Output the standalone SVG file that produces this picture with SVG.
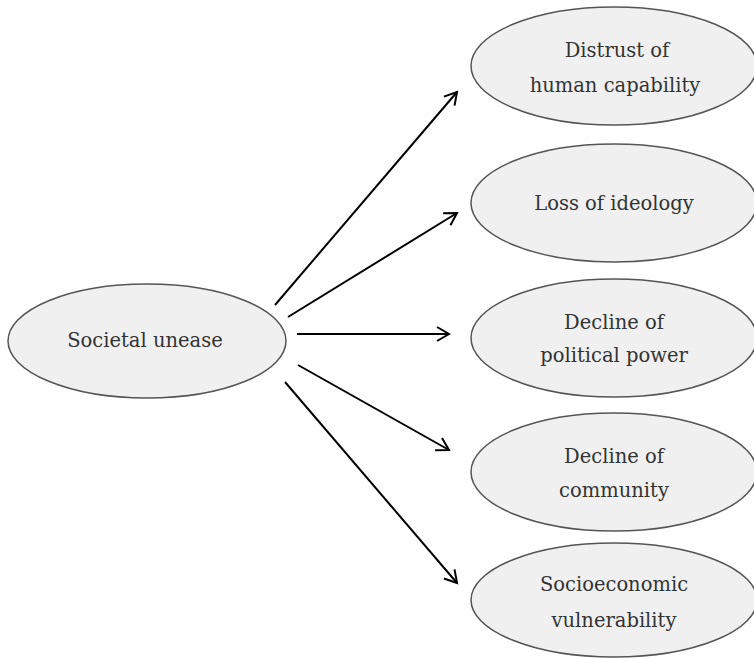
<svg xmlns="http://www.w3.org/2000/svg" width="754" height="658" viewBox="0 0 754 658">
<defs>
<style>
.n{fill:#f0f0f0;stroke:#555;stroke-width:1.5}
.t{font-family:"DejaVu Serif","Liberation Serif",serif;font-size:19.5px;fill:#333;text-anchor:middle}
.c{stroke:#000;stroke-width:2;fill:none;marker-end:url(#a)}
</style>
<marker id="a" markerWidth="16" markerHeight="16" refX="13" refY="8" orient="auto" markerUnits="userSpaceOnUse">
<path d="M1,1 L13,8 L1,15" fill="none" stroke="#000" stroke-width="2"/>
</marker>
</defs>
<rect width="754" height="658" fill="#fff"/>
<g id="connectors">
<line class="c" x1="275" y1="305" x2="457" y2="92"/>
<line class="c" x1="288" y1="317" x2="457" y2="213"/>
<line class="c" x1="297" y1="334" x2="449" y2="334"/>
<line class="c" x1="298" y1="365" x2="449" y2="450"/>
<line class="c" x1="285" y1="382" x2="457" y2="583"/>
</g>
<g id="societal-unease">
<ellipse class="n" cx="147" cy="341" rx="139" ry="57"/>
<text class="t" x="145" y="347">Societal unease</text>
</g>
<g id="distrust">
<ellipse class="n" cx="614" cy="66" rx="143" ry="59"/>
<text class="t" x="617" y="57">Distrust of</text>
<text class="t" x="615" y="92">human capability</text>
</g>
<g id="ideology">
<ellipse class="n" cx="614" cy="203" rx="143" ry="59"/>
<text class="t" x="614" y="210">Loss of ideology</text>
</g>
<g id="political">
<ellipse class="n" cx="614" cy="338" rx="143" ry="59"/>
<text class="t" x="614" y="329">Decline of</text>
<text class="t" x="614" y="362">political power</text>
</g>
<g id="community">
<ellipse class="n" cx="614" cy="472" rx="143" ry="59"/>
<text class="t" x="614" y="463">Decline of</text>
<text class="t" x="614" y="497">community</text>
</g>
<g id="socioeconomic">
<ellipse class="n" cx="614" cy="600" rx="143" ry="57"/>
<text class="t" x="614" y="591">Socioeconomic</text>
<text class="t" x="614" y="627">vulnerability</text>
</g>
</svg>
